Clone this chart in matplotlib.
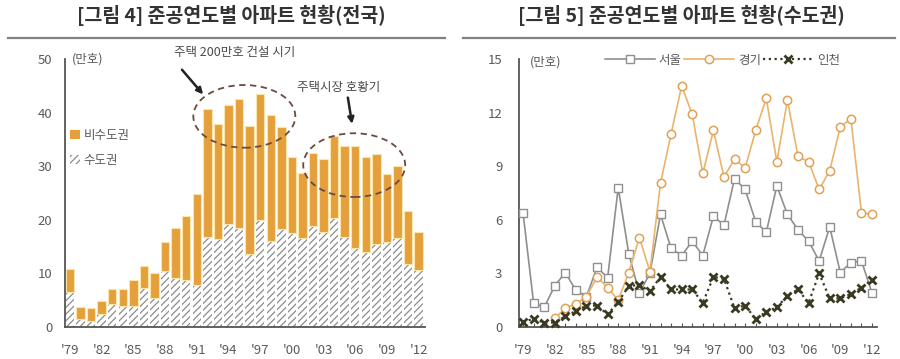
import matplotlib
matplotlib.use('Agg')
import matplotlib.pyplot as plt
import numpy as np
from matplotlib.patches import Ellipse, Patch
from matplotlib.lines import Line2D

plt.rcParams['font.family'] = ['Noto Sans CJK KR', 'DejaVu Sans']
plt.rcParams['hatch.linewidth'] = 0.9
plt.rcParams['hatch.color'] = '#8c8c8c'

# ---------------- data ----------------
years = list(range(1979, 2013))
capital = [6.5, 1.4, 1.2, 2.4, 4.3, 3.9, 4.0, 7.3, 5.4, 10.4, 9.1, 8.8, 7.8,
           16.7, 16.4, 19.3, 18.4, 13.7, 20.0, 16.1, 18.3, 17.6, 16.6, 18.8,
           17.8, 20.3, 16.8, 14.8, 14.0, 15.5, 15.8, 16.6, 11.8, 10.6]
non_capital = [4.4, 2.3, 2.3, 2.5, 2.8, 3.1, 4.7, 4.0, 4.7, 5.4, 9.3, 11.9, 17.0,
               23.9, 21.4, 22.1, 24.2, 23.8, 23.5, 23.5, 19.1, 14.1, 12.2, 13.6,
               13.5, 15.4, 17.0, 18.9, 17.7, 16.7, 12.8, 13.5, 9.9, 7.2]

seoul = [6.4, 1.35, 1.1, 2.3, 3.05, 2.05, 1.7, 3.35, 2.75, 7.8, 4.1, 1.9, 3.0,
         6.3, 4.4, 4.0, 4.8, 4.0, 6.2, 5.7, 8.3, 7.7, 5.9, 5.3, 7.9, 6.3, 5.45,
         4.8, 3.7, 5.6, 3.05, 3.6, 3.7, 1.9]
gyeonggi = [np.nan, np.nan, np.nan, 0.5, 1.05, 1.3, 1.7, 2.8, 2.2, 1.5, 3.05,
            5.0, 3.1, 8.05, 10.8, 13.5, 11.9, 8.6, 11.0, 8.4, 9.4, 8.9, 11.0,
            12.8, 9.25, 12.7, 9.55, 9.25, 7.7, 8.75, 11.2, 11.65, 6.4, 6.3]
incheon = [0.3, 0.45, 0.25, 0.25, 0.6, 0.9, 1.2, 1.2, 0.7, 1.4, 2.3, 2.35, 2.0,
           2.8, 2.1, 2.1, 2.1, 1.35, 2.8, 2.7, 1.05, 1.2, 0.45, 0.85, 1.1, 1.75,
           2.1, 1.35, 3.0, 1.6, 1.6, 1.85, 2.2, 2.65]

tick_years = list(range(1979, 2013, 3))
tick_labels = ["'79", "'82", "'85", "'88", "'91", "'94", "'97", "'00", "'03",
               "'06", "'09", "'12"]

title_left = "[그림 4] 준공연도별 아파트 현황(전국)"
title_right = "[그림 5] 준공연도별 아파트 현황(수도권)"

ORANGE = '#E5A03B'
GREY_TXT = '#5a5a5a'
AX_COL = '#555555'

fig = plt.figure(figsize=(9.0, 3.59), dpi=100)

# titles and rules
fig.text(231 / 900, 1 - 15 / 359, title_left, ha='center', va='center',
         fontsize=14, fontweight='bold', color='#333333')
fig.text(681 / 900, 1 - 15 / 359, title_right, ha='center', va='center',
         fontsize=14, fontweight='bold', color='#333333')
fig.add_artist(Line2D([8 / 900, 445 / 900], [1 - 38 / 359] * 2,
                      color='#808080', lw=1.6))
fig.add_artist(Line2D([463 / 900, 895 / 900], [1 - 38 / 359] * 2,
                      color='#808080', lw=1.6))


def style_axes(ax, ymax):
    for s in ['top', 'right']:
        ax.spines[s].set_visible(False)
    for s in ['left', 'bottom']:
        ax.spines[s].set_color(AX_COL)
        ax.spines[s].set_linewidth(1.3)
    ax.set_ylim(0, ymax)
    ax.set_xticks(tick_years)
    ax.set_xticklabels(tick_labels)
    ax.set_xticks(years, minor=True)
    ax.tick_params(axis='x', which='both', direction='in', length=3,
                   color=AX_COL, width=0.8)
    ax.tick_params(axis='x', which='major', pad=12, labelsize=9.5,
                   labelcolor=GREY_TXT)
    ax.tick_params(axis='y', which='major', length=0, labelsize=9.5,
                   labelcolor=GREY_TXT)
    ax.set_yticks([ymax], minor=True)
    ax.tick_params(axis='y', which='minor', direction='in', length=4,
                   color=AX_COL, width=1.2)


# ---------------- left chart ----------------
axL = fig.add_axes([65 / 900, 1 - 327 / 359, 360 / 900, 268 / 359])
x = np.array(years)
axL.bar(x, capital, width=0.8, facecolor='white', edgecolor='#8c8c8c',
        linewidth=0, hatch='/////', zorder=2)
axL.bar(x, non_capital, bottom=capital, width=0.8, color=ORANGE,
        edgecolor='#F9E6AE', linewidth=0.8, zorder=2)
axL.set_xlim(1978.53, 2012.6)
style_axes(axL, 50)
axL.set_yticks(range(0, 51, 10))
axL.tick_params(axis='y', pad=9)

axL.text(0.02, 1.0, '(만호)', transform=axL.transAxes, ha='left', va='center',
         fontsize=9, color=GREY_TXT)

legL = axL.legend(handles=[Patch(facecolor=ORANGE, edgecolor='none'),
                           Patch(facecolor='white', edgecolor='#8c8c8c',
                                 linewidth=0, hatch='/////')],
                  labels=['비수도권', '수도권'], loc='upper left',
                  bbox_to_anchor=(0.015, 0.74), frameon=False, fontsize=9,
                  handlelength=0.75, handleheight=0.75, handletextpad=0.3,
                  labelspacing=0.95, borderpad=0, borderaxespad=0)
for t in legL.get_texts():
    t.set_color(GREY_TXT)

# annotations
DASH = '#6b4a42'
axL.add_patch(Ellipse((1995.5, 39.3), 9.65, 11.7, fill=False, ec=DASH,
                      lw=1.3, ls=(0, (3.5, 2.5)), zorder=3))
axL.add_patch(Ellipse((2005.9, 30.2), 9.65, 11.9, fill=False, ec=DASH,
                      lw=1.3, ls=(0, (3.5, 2.5)), zorder=3))
axL.text(1994.6, 51.2, '주택 200만호 건설 시기', ha='center', va='center',
         fontsize=9, color='#4a4a4a', clip_on=False)
axL.text(2004.4, 44.7, '주택시장 호황기', ha='center', va='center',
         fontsize=9, color='#4a4a4a')
axL.annotate('', xy=(1991.6, 43.4), xytext=(1989.6, 48.0),
             arrowprops=dict(arrowstyle='-|>', color='#222222', lw=1.8,
                             mutation_scale=9, shrinkA=0, shrinkB=0),
             annotation_clip=False)
axL.annotate('', xy=(2005.7, 37.9), xytext=(2005.3, 42.8),
             arrowprops=dict(arrowstyle='-|>', color='#222222', lw=1.8,
                             mutation_scale=9, shrinkA=0, shrinkB=0))

# ---------------- right chart ----------------
axR = fig.add_axes([519 / 900, 1 - 327 / 359, 358 / 900, 268 / 359])
axR.plot(x, seoul, color='#8f8f8f', lw=1.2, marker='s', ms=5.5,
         mfc='white', mec='#8f8f8f', mew=1.0, clip_on=False, zorder=3,
         label='서울')
axR.plot(x, gyeonggi, color='#E8B56A', lw=1.2, marker='o', ms=6,
         mfc='white', mec='#E0A055', mew=1.1, clip_on=False, zorder=4,
         label='경기')
axR.plot(x, incheon, color='#3a3a22', lw=1.6, ls=(0, (1, 1.6)), marker='x',
         ms=5.5, mec='#3a3a22', mew=2.0, clip_on=False, zorder=5,
         label='인천')
axR.set_xlim(1978.62, 2012.47)
style_axes(axR, 15)
axR.set_yticks(range(0, 16, 3))
axR.tick_params(axis='y', pad=12)
axR.text(0.03, 0.99, '(만호)', transform=axR.transAxes, ha='left',
         va='center', fontsize=9, color=GREY_TXT)
legR = axR.legend(loc='center left', bbox_to_anchor=(0.24, 0.995), ncol=3,
                  frameon=False, fontsize=9, handlelength=4.0,
                  handletextpad=0.3, columnspacing=0.2, borderpad=0,
                  borderaxespad=0, numpoints=1)
for t in legR.get_texts():
    t.set_color(GREY_TXT)

fig.savefig('out.png', dpi=100)
